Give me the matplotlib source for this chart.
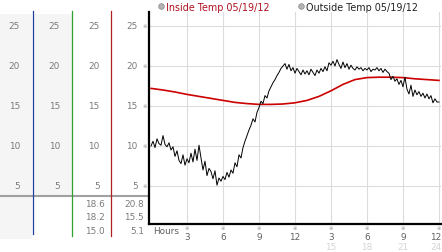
import numpy as np
import matplotlib
matplotlib.use("Agg")
import matplotlib.pyplot as plt
from matplotlib.transforms import blended_transform_factory

# ---------------- data ----------------
outside_temp = [
    10.0, 10.6, 9.8, 10.9, 10.3, 10.1,
    11.3, 10.2, 9.9, 10.4, 9.5, 9.9,
    8.7, 9.4, 8.2, 7.8, 8.9, 7.6,
    8.4, 7.9, 9.1, 8.0, 9.6, 8.2,
    10.1, 8.5, 7.0, 8.1, 6.3, 7.2,
    6.8, 5.9, 6.9, 5.1, 6.0, 5.6,
    6.2, 5.8, 6.7, 6.1, 7.0, 6.6,
    7.9, 7.4, 8.9, 8.5, 9.8, 10.6,
    11.3, 12.0, 12.6, 13.4, 13.0, 14.2,
    14.8, 15.6, 15.3, 16.3, 16.0, 16.9,
    17.4, 17.9, 18.3, 18.8, 19.2, 19.7,
    20.0, 20.3, 19.6, 20.2, 19.4, 19.8,
    19.1, 19.7, 19.3, 18.9, 19.5, 19.0,
    19.4, 18.9, 19.6, 19.2, 18.8, 19.5,
    19.1, 19.7, 19.3, 19.9, 19.4, 20.4,
    20.1, 20.6, 20.0, 20.8, 20.2, 19.7,
    20.5, 19.8, 20.3, 19.6, 20.1, 19.7,
    19.5, 19.9, 19.6, 19.8, 19.4, 19.7,
    19.5, 19.8, 19.3, 19.6, 19.5, 19.8,
    19.4, 19.7, 19.2, 19.6, 19.3, 19.1,
    18.3, 18.7, 18.1, 18.4, 17.7, 18.2,
    17.4, 18.6, 17.1, 16.5, 17.6, 16.2,
    17.0, 16.4, 16.8, 16.2, 16.6, 16.0,
    16.5, 15.9, 16.3, 15.4, 15.9, 15.5,
    15.5,
]
outside_hours = np.linspace(0, 24, len(outside_temp))

inside_temp = [17.2, 17.0, 16.75, 16.45, 16.2, 15.95, 15.7, 15.45, 15.3, 15.2,
               15.2, 15.25, 15.4, 15.7, 16.2, 16.9, 17.7, 18.3, 18.55, 18.6,
               18.6, 18.55, 18.4, 18.3, 18.2]
inside_hours = np.linspace(0, 24, len(inside_temp))

y_ticks = [5, 10, 15, 20, 25]
x_ticks = [3, 6, 9, 12, 15, 18, 21, 24]
x_labels = ["3", "6", "9", "12", "3", "6", "9", "12"]
x_labels2 = ["15", "18", "21", "24"]
legend_labels = ["Inside Temp 05/19/12", "Outside Temp 05/19/12"]
inside_stats = ["18.6", "18.2", "15.0"]
outside_stats = ["20.8", "15.5", "5.1"]

# ---------------- figure ----------------
W, H = 442, 253
fig = plt.figure(figsize=(W / 100, H / 100), dpi=100)
fig.patch.set_facecolor("white")

# background overlay axes in pixel coordinates
bg = fig.add_axes([0, 0, 1, 1], zorder=0)
bg.set_xlim(0, W)
bg.set_ylim(H, 0)
bg.axis("off")

# main axes
ax = fig.add_axes([149 / W, 28 / H, (441 - 149) / W, (225 - 13) / H], zorder=1)
ax.patch.set_alpha(0)
ax.set_xlim(-0.167, 24.17)
ax.set_ylim(0.25, 26.75)
for s in ["top", "right"]:
    ax.spines[s].set_visible(False)
for s in ["left", "bottom"]:
    ax.spines[s].set_color("black")
    ax.spines[s].set_linewidth(1.6)
ax.set_xticks(x_ticks)
ax.set_yticks(y_ticks)
ax.tick_params(length=0, labelleft=False, labelbottom=False)
ax.grid(True, color="#dcdcdc", lw=0.8)
ax.set_axisbelow(True)

ax.plot(inside_hours, inside_temp, color="#cc0000", lw=1.2, zorder=3)
ax.plot(outside_hours, outside_temp, color="black", lw=0.7, zorder=4)

# ---------------- left panel ----------------
gray_bg = "#f5f5f5"
bg.add_patch(plt.Rectangle((0, 15), 32, 225, color=gray_bg, lw=0))
bg.add_patch(plt.Rectangle((34, 15), 37.5, 181, color=gray_bg, lw=0))
bg.plot([0, 149], [196.5, 196.5], color="#a0a0a0", lw=1.5)
bg.plot([33, 33], [12, 235], color="#2040a0", lw=0.9)
bg.plot([72, 72], [12, 237], color="#30a030", lw=0.9)
bg.plot([111, 111], [12, 237], color="#b02020", lw=0.9)

ytr = blended_transform_factory(bg.transData, ax.transData)
fs = 6.4
lab_col = "#7a7a7a"
for v in y_ticks:
    for xr in [20, 60, 99.5, 137.5]:
        fig.text(xr, v, str(v), transform=ytr, ha="right", va="center",
                 fontsize=fs, color=lab_col)
    fig.text(145, v, "※", transform=ytr, ha="center", va="center",
             fontsize=3.8, color="#909090")

for i, (a, b) in enumerate(zip(inside_stats, outside_stats)):
    yy = 204.5 + i * 13.5
    bg.text(105, yy, a, ha="right", va="center", fontsize=fs, color=lab_col)
    bg.text(144, yy, b, ha="right", va="center", fontsize=fs, color=lab_col)

# ---------------- x labels ----------------
xtr = blended_transform_factory(ax.transData, bg.transData)
last = len(x_ticks) - 1
for i, (xv, lab) in enumerate(zip(x_ticks, x_labels)):
    fig.text(xv, 228.5, "※", transform=xtr, ha="center", va="center",
             fontsize=3.8, color="#909090")
    if i == last:
        bg.text(441.5, 237.5, lab, ha="right", va="center", fontsize=fs, color="#606060")
    else:
        fig.text(xv, 237.5, lab, transform=xtr, ha="center", va="center",
                 fontsize=fs, color="#606060")
for i, (xv, lab) in enumerate(zip(x_ticks[4:], x_labels2)):
    if i == len(x_labels2) - 1:
        bg.text(441.5, 248, lab, ha="right", va="center", fontsize=fs, color="#d4d4d4")
    else:
        fig.text(xv, 248, lab, transform=xtr, ha="center", va="center",
                 fontsize=fs, color="#d4d4d4")
bg.text(179, 232, "Hours", ha="right", va="center", fontsize=fs, color="#606060")

# ---------------- legend ----------------
for xc, lab, col in [(161, legend_labels[0], "#b01020"),
                     (301, legend_labels[1], "#222222")]:
    bg.plot([xc], [7], marker="o", ms=4, mfc="#b4b4b4", mec="#909090", mew=0.6)
    bg.text(xc + 4.5, 7.5, lab, ha="left", va="center", fontsize=6.9, color=col)

fig.savefig("out.png", dpi=100)
